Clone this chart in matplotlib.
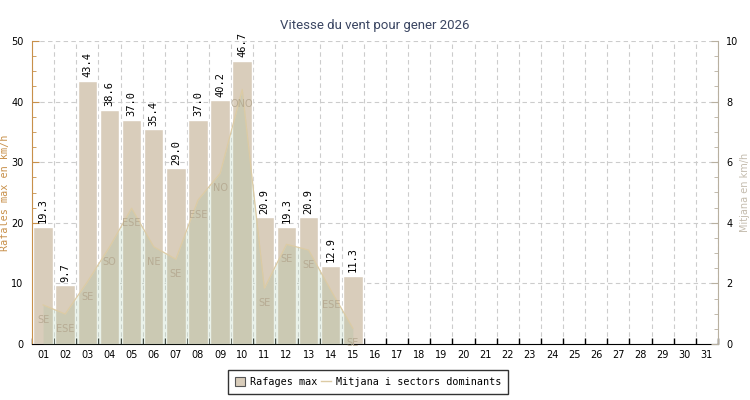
import numpy as np
import matplotlib.pyplot as plt
from matplotlib.patches import Patch
from matplotlib.lines import Line2D

# dades del mes
days = ["%02d" % d for d in range(1, 32)]
gusts = [19.3, 9.7, 43.4, 38.6, 37.0, 35.4, 29.0, 37.0, 40.2, 46.7,
         20.9, 19.3, 20.9, 12.9, 11.3]
mean_wind = [1.29, 0.99, 2.05, 3.2, 4.48, 3.21, 2.8, 4.75, 5.63, 8.4,
             1.84, 3.29, 3.1, 1.78, 0.52]
sectors = ["SE", "ESE", "SE", "SO", "ESE", "NE", "SE", "ESE", "NO", "ONO",
           "SE", "SE", "SE", "ESE", "SE"]

BAR = "#d9cdbb"
AREA = "#8fba8f"
LINE = "#dccba4"
LEFTC = "#c8904a"
RIGHTC = "#b8b0a0"
MONO = "DejaVu Sans Mono"

fig = plt.figure(figsize=(7.5, 4.0), dpi=100)
ax = fig.add_axes([32 / 750, 56 / 400, 686 / 750, 303 / 400])
x = np.arange(len(gusts))

ax.set_xlim(-0.5, len(days) - 0.5)
ax.set_ylim(0, 50)
ax.bar(x, gusts, width=0.88, color=BAR, edgecolor="white", linewidth=1, zorder=2)
for xi, v in zip(x, gusts):
    ax.text(xi, v + 0.6, "%.1f" % v, rotation=90, ha="center", va="bottom",
            fontsize=7.5, family=MONO, color="black", zorder=5)

ax.set_xticks(np.arange(len(days)))
ax.set_xticklabels(days, fontsize=7)
ax.set_xticks(np.arange(len(days) + 1) - 0.5, minor=True)
ax.tick_params(axis="x", which="major", length=0, pad=4)
ax.tick_params(axis="x", which="minor", length=4, direction="in", width=1)
ax.set_yticks(np.arange(0, 51, 10))
ax.set_yticks(np.arange(0, 51, 2.5), minor=True)
ax.tick_params(axis="y", which="major", labelsize=7, direction="in", length=5,
               color=LEFTC, pad=6)
ax.tick_params(axis="y", which="minor", direction="in", length=3, color=LEFTC)
ax.set_ylabel("Rafales max en km/h", color=LEFTC, family=MONO, fontsize=7.3)
ax.yaxis.set_label_coords((10 - 32) / 686, 0.5)

for gx in np.arange(len(days) + 1) - 0.5:
    ax.axvline(gx, color="#cccccc", linestyle=(0, (4, 3)), linewidth=0.8, zorder=1)
for gy in range(10, 51, 10):
    ax.axhline(gy, color="#cccccc", linestyle=(0, (4, 3)), linewidth=0.8, zorder=1)

ax.spines["top"].set_visible(False)
ax.spines["right"].set_visible(False)
ax.spines["left"].set_color(LEFTC)
ax.spines["bottom"].set_color("black")

ax2 = ax.twinx()
ax2.set_ylim(0, 10)
ax2.fill_between(x, mean_wind, color=AREA, alpha=0.18, linewidth=0, zorder=3)
ax2.plot(x, mean_wind, color=LINE, linewidth=0.9, zorder=4)
for xi, v, s in zip(x, mean_wind, sectors):
    ax2.annotate(s, (xi, v), xytext=(0, -15), textcoords="offset pixels",
                 ha="center", va="center", fontsize=7, color="#b3a68e",
                 alpha=0.85, zorder=4)
ax2.set_yticks(np.arange(0, 11, 2))
ax2.set_yticks(np.arange(0, 10.1, 0.5), minor=True)
ax2.tick_params(axis="y", which="major", labelsize=7, direction="in", length=5,
                color=RIGHTC, pad=6)
ax2.tick_params(axis="y", which="minor", direction="in", length=3, color=RIGHTC)
ax2.set_ylabel("Mitjana en km/h", color="#c4bcae", fontsize=7)
ax2.yaxis.set_label_coords((740 - 32) / 686, 0.5)
for side in ["top", "left", "bottom"]:
    ax2.spines[side].set_visible(False)
ax2.spines["right"].set_color(RIGHTC)

fig.text(0.5, 0.935, "Vitesse du vent pour gener 2026", ha="center", va="center",
         fontsize=9.5, color="#3b4662", family="Roboto")

handles = [Patch(facecolor=BAR, edgecolor="#555555", linewidth=0.8),
           Line2D([0], [0], color=LINE, linewidth=1)]
leg = fig.legend(handles, ["Rafages max", "Mitjana i sectors dominants"],
                 loc="center", bbox_to_anchor=(368 / 750, 1 - 382 / 400), ncol=2,
                 prop={"family": MONO, "size": 7.3}, frameon=True, fancybox=False,
                 handlelength=1.0, handleheight=1.0, columnspacing=0.3,
                 handletextpad=0.5, borderpad=0.7)
leg.get_frame().set_edgecolor("black")
leg.get_frame().set_linewidth(1)

fig.savefig("out.png", dpi=100)
